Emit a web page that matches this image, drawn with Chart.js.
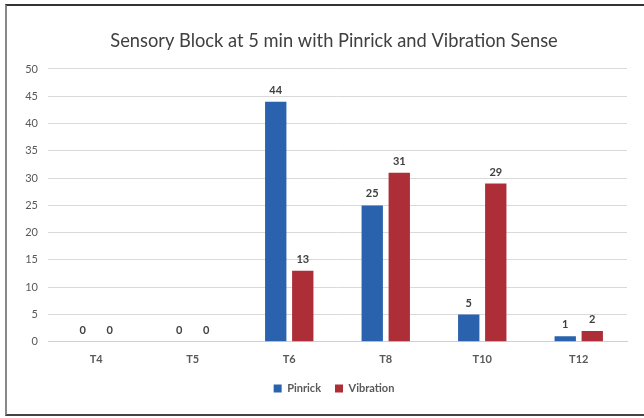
<!DOCTYPE html>
<html>
<head>
<meta charset="utf-8">
<script src="https://cdn.jsdelivr.net/npm/chart.js@4"></script>
<style>
  body { margin: 0; background: #fff; overflow: hidden; }
  #box {
    position: absolute; left: 5px; top: 4px;
    width: 637px; height: 408px;
    border-top: 2px solid #333;
    border-left: 2px solid #888;
    border-bottom: 2px solid #444;
  }
</style>
</head>
<body>
<div id="box"><canvas id="graph1" width="637" height="408"></canvas></div>
<script>
let levels = ['T4', 'T5', 'T6', 'T8', 'T10', 'T12'];
let pinrick = [0, 0, 44, 25, 5, 1];
let vibration = [0, 0, 13, 31, 29, 2];

// draw the numbers on top of each bar
const barLabels = {
    id: 'barLabels',
    afterDatasetsDraw(chart) {
        const c = chart.ctx;
        c.save();
        c.font = 'bold 11px Lato';
        c.fillStyle = '#404040';
        c.textAlign = 'center';
        c.textBaseline = 'bottom';
        chart.data.datasets.forEach((ds, i) => {
            chart.getDatasetMeta(i).data.forEach((bar, j) => {
                c.fillText(ds.data[j], bar.x, bar.y - 6);
            })
        })
        c.restore();
    }
};

// title and legend sit a bit right of centre in the original
const nudge = {
    id: 'nudge',
    afterLayout(chart) {
        chart.titleBlock.left += 34;
        chart.legend.left += 34;
        chart.legend.adjustHitBoxes();
    }
};

const ctx = document.getElementById('graph1').getContext('2d');
var myChart = new Chart(ctx, {
    type: 'bar',
    data: {
        labels: levels,
        datasets: [{
            label: 'Pinrick',
            data: pinrick,
            backgroundColor: '#2a62ad'
        }, {
            label: 'Vibration',
            data: vibration,
            backgroundColor: '#ad2e37'
        }]
    },
    options: {
        responsive: false,
        animation: false,
        categoryPercentage: 0.56,
        barPercentage: 0.79,
        layout: { padding: { left: 0, right: 17, top: 0, bottom: 10 } },
        plugins: {
            title: {
                display: true,
                text: 'Sensory Block at 5 min with Pinrick and Vibration Sense',
                color: '#404040',
                font: { family: 'Lato', size: 18.3, weight: 'normal' },
                padding: { top: 24, bottom: 17 }
            },
            legend: {
                position: 'bottom',
                labels: {
                    boxWidth: 8, boxHeight: 8,
                    color: '#595959',
                    font: { family: 'Lato', size: 11, weight: 'bold' },
                    padding: 14
                }
            },
            tooltip: { enabled: false }
        },
        scales: {
            x: {
                grid: { display: false },
                border: { color: '#d0d0d0' },
                ticks: { color: '#595959', font: { family: 'Lato', size: 11, weight: 'bold' }, padding: 3 }
            },
            y: {
                min: 0, max: 50,
                afterFit: (s) => { s.width = 41; },
                border: { display: false },
                grid: { color: '#d9d9d9', drawTicks: false },
                ticks: { stepSize: 5, color: '#595959', font: { family: 'Lato', size: 11 }, padding: 10 }
            }
        }
    },
    plugins: [barLabels, nudge]
});
</script>
</body>
</html>
